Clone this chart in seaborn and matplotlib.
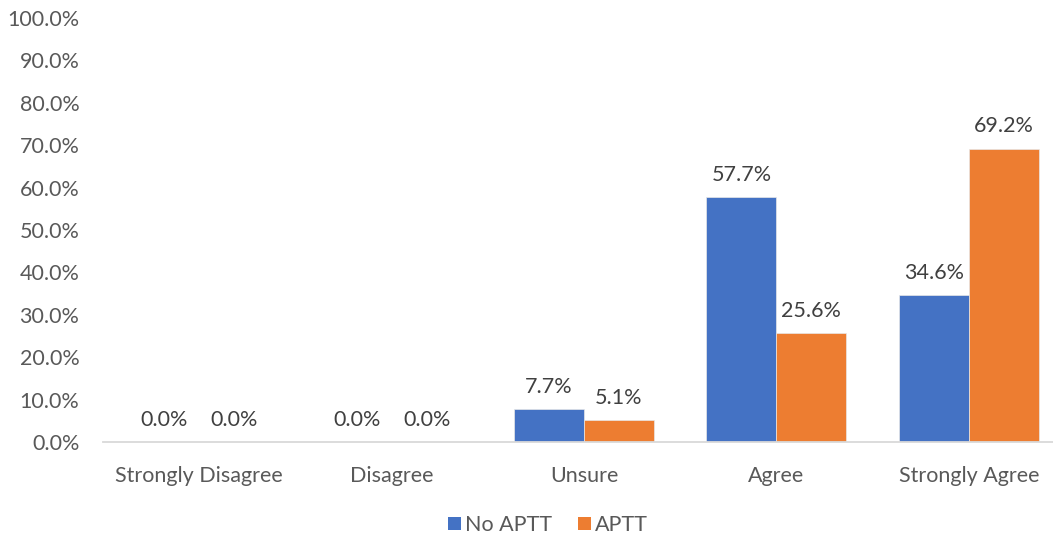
import matplotlib
matplotlib.use("Agg")
import matplotlib.pyplot as plt
import seaborn as sns
import pandas as pd
from matplotlib.ticker import PercentFormatter
from matplotlib.patches import Patch

categories = ["Strongly Disagree", "Disagree", "Unsure", "Agree", "Strongly Agree"]
no_aptt = [0.0, 0.0, 7.7, 57.7, 34.6]
aptt = [0.0, 0.0, 5.1, 25.6, 69.2]
series = ["No APTT", "APTT"]
colors = ["#4472C4", "#ED7D31"]

df = pd.DataFrame({
    "cat": categories * 2,
    "val": no_aptt + aptt,
    "series": [series[0]] * 5 + [series[1]] * 5,
})

sns.set_theme(style="white")
plt.rcParams["font.family"] = ["Lato", "DejaVu Sans"]

FS = 15.5
W, H = 1053, 540
fig = plt.figure(figsize=(W / 100, H / 100), dpi=100)
ax = fig.add_axes([103 / W, 1 - 442 / H, 962 / W, 424 / H])

sns.barplot(data=df, x="cat", y="val", hue="series", palette=colors,
            width=0.727, ax=ax, legend=False, saturation=1, linewidth=0.5,
            edgecolor="#E8E8E8")

ax.set_ylim(0, 100)
ax.set_yticks(range(0, 101, 10))
ax.yaxis.set_major_formatter(PercentFormatter(decimals=1))
ax.set_xlim(-0.5, 4.5)
ax.set_xlabel("")
ax.set_ylabel("")
for s in ["top", "right", "left"]:
    ax.spines[s].set_visible(False)
ax.spines["bottom"].set_color("#D9D9D9")
ax.spines["bottom"].set_linewidth(1.3)
ax.tick_params(axis="y", length=0, labelsize=FS, labelcolor="#595959", pad=17)
ax.tick_params(axis="x", length=0, labelsize=FS, labelcolor="#595959", pad=17)

for cont in ax.containers:
    ax.bar_label(cont, labels=[f"{v:.1f}%" for v in cont.datavalues],
                 padding=9, fontsize=FS, color="#404040")

handles = [Patch(facecolor=c, edgecolor="none") for c in colors]
fig.legend(handles, series, loc="center", bbox_to_anchor=(548 / W, 1 - 525 / H),
           ncol=2, frameon=False, fontsize=FS, labelcolor="#595959",
           handlelength=0.6, handleheight=0.6, handletextpad=0.2, columnspacing=1.2)

fig.savefig("out.png", dpi=100)
